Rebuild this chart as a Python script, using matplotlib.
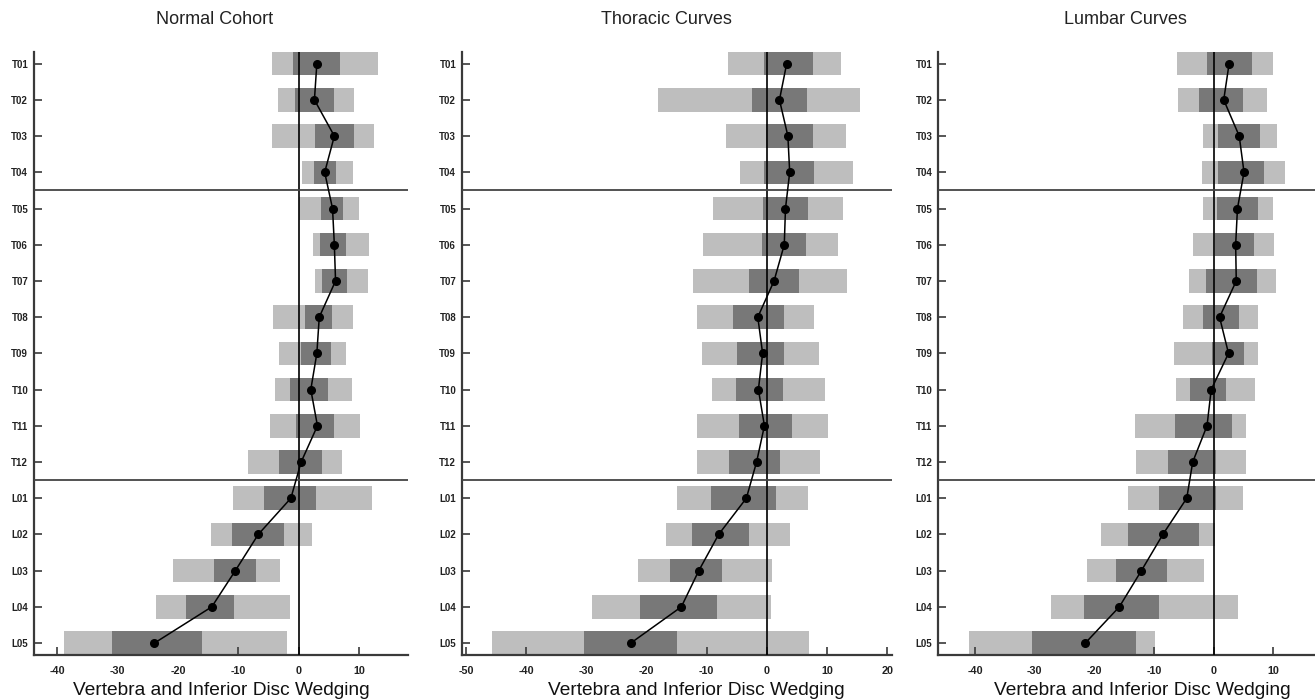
import matplotlib
matplotlib.use("Agg")
import matplotlib.pyplot as plt
import numpy as np

plt.rcParams['font.family'] = ['Liberation Sans', 'DejaVu Sans']

levels = ["T01", "T02", "T03", "T04", "T05", "T06", "T07", "T08", "T09", "T10",
          "T11", "T12", "L01", "L02", "L03", "L04", "L05"]

# Normal Cohort
normal_outer_lo = [-4.5, -3.5, -4.4, 0.6, 0.1, 2.3, 2.7, -4.3, -3.2, -3.9, -4.8, -8.4, -10.9, -14.5, -20.8, -23.6, -38.9]
normal_inner_lo = [-0.9, -0.6, 2.7, 2.6, 3.7, 3.5, 3.8, 1.0, 0.4, -1.4, -0.5, -3.2, -5.8, -11.0, -14.0, -18.7, -30.9]
normal_median   = [3.0, 2.6, 5.9, 4.3, 5.6, 5.9, 6.1, 3.4, 3.0, 2.0, 3.1, 0.4, -1.3, -6.7, -10.5, -14.4, -23.9]
normal_inner_hi = [6.8, 5.9, 9.2, 6.1, 7.4, 7.8, 8.0, 5.5, 5.3, 4.8, 5.9, 3.9, 2.8, -2.5, -7.0, -10.8, -16.0]
normal_outer_hi = [13.1, 9.2, 12.5, 9.0, 10.0, 11.6, 11.4, 9.0, 7.8, 8.8, 10.2, 7.2, 12.1, 2.2, -3.1, -1.4, -2.0]

# Thoracic Curves
thor_outer_lo = [-6.5, -18.0, -6.7, -4.4, -8.9, -10.6, -12.2, -11.6, -10.7, -9.1, -11.6, -11.6, -15.0, -16.7, -21.4, -29.1, -45.7]
thor_inner_lo = [-0.4, -2.5, -0.1, -0.5, -0.7, -0.8, -2.9, -5.7, -5.0, -5.1, -4.7, -6.3, -9.2, -12.4, -16.1, -21.0, -30.4]
thor_median   = [3.3, 2.1, 3.5, 3.8, 3.1, 2.9, 1.2, -1.5, -0.7, -1.4, -0.4, -1.7, -3.4, -8.0, -11.3, -14.2, -22.6]
thor_inner_hi = [7.7, 6.6, 7.6, 7.9, 6.8, 6.5, 5.4, 2.8, 2.8, 2.7, 4.2, 2.2, 1.6, -2.9, -7.4, -8.2, -15.0]
thor_outer_hi = [12.4, 15.5, 13.2, 14.4, 12.7, 11.8, 13.3, 7.9, 8.6, 9.6, 10.1, 8.9, 6.8, 3.9, 0.8, 0.7, 7.0]

# Lumbar Curves
lumb_outer_lo = [-6.1, -5.9, -1.7, -2.0, -1.8, -3.5, -4.2, -5.1, -6.7, -6.3, -13.2, -13.0, -14.3, -18.9, -21.3, -27.3, -41.0]
lumb_inner_lo = [-1.1, -2.5, 0.8, 0.7, 0.5, 0.2, -1.2, -1.7, -0.2, -4.0, -6.5, -7.7, -9.2, -14.3, -16.3, -21.8, -30.5]
lumb_median   = [2.6, 1.7, 4.3, 5.1, 4.0, 3.7, 3.8, 1.0, 2.5, -0.4, -1.1, -3.5, -4.5, -8.5, -12.1, -15.8, -21.5]
lumb_inner_hi = [6.4, 5.0, 7.7, 8.5, 7.4, 6.8, 7.3, 4.2, 5.1, 2.1, 3.1, 0.4, 0.4, -2.4, -7.8, -9.2, -13.0]
lumb_outer_hi = [10.0, 9.0, 10.7, 11.9, 10.0, 10.2, 10.5, 7.5, 7.4, 7.0, 5.5, 5.5, 4.9, 0.3, -1.6, 4.1, -9.8]

titles = ["Normal Cohort", "Thoracic Curves", "Lumbar Curves"]
xlabel = "Vertebra and Inferior Disc Wedging"
separators = [3.5, 11.5]

panels = [
    (normal_outer_lo, normal_inner_lo, normal_median, normal_inner_hi, normal_outer_hi),
    (thor_outer_lo, thor_inner_lo, thor_median, thor_inner_hi, thor_outer_hi),
    (lumb_outer_lo, lumb_inner_lo, lumb_median, lumb_inner_hi, lumb_outer_hi),
]
xlims = [(-43.9, 18.1), (-50.7, 20.8), (-46.2, 17.0)]
xticks = [[-40, -30, -20, -10, 0, 10], [-50, -40, -30, -20, -10, 0, 10, 20], [-40, -30, -20, -10, 0, 10]]

W, H = 1315, 700
axes_px = [(33.7, 408.0), (461.7, 892.0), (938.0, 1315.0)]
xlabel_cx = [221, 696, 1142]
title_cx = [215, 666, 1125]
top_px, bot_px = 51.7, 655.0

fig = plt.figure(figsize=(W / 100, H / 100), dpi=100)

light = "#bebebe"
dark = "#787878"
spine_col = "#3a3a3a"

for i, (data, title) in enumerate(zip(panels, titles)):
    l, r = axes_px[i]
    ax = fig.add_axes([l / W, 1 - bot_px / H, (r - l) / W, (bot_px - top_px) / H])
    olo, ilo, med, ihi, ohi = [np.array(a) for a in data]
    y = np.arange(len(levels))
    ax.barh(y, ohi - olo, left=olo, height=0.65, color=light, zorder=1)
    ax.barh(y, ihi - ilo, left=ilo, height=0.65, color=dark, zorder=2)
    ax.plot(med, y, color="black", lw=1.1, marker="o", markersize=5.5, zorder=5)
    ax.axvline(0, color="black", lw=1.2, zorder=4)
    for s in separators:
        ax.axhline(s, color="#444444", lw=1.3, zorder=4)
    ax.set_xlim(*xlims[i])
    ax.set_ylim(len(levels) - 1 + 0.33, -0.33)
    ax.set_yticks(y)
    ax.set_yticklabels(levels, fontsize=7, fontweight="bold", color="#222222")
    ax.set_xticks(xticks[i])
    ax.set_xticklabels([str(t) for t in xticks[i]], fontsize=7.8, fontweight="bold", color="#222222")
    ax.tick_params(axis="y", direction="in", length=6, width=1.2, color=spine_col, pad=4)
    ax.tick_params(axis="x", direction="in", length=6, width=1.2, color=spine_col, pad=8)
    for side in ["top", "right"]:
        ax.spines[side].set_visible(False)
    for side in ["left", "bottom"]:
        ax.spines[side].set_color(spine_col)
        ax.spines[side].set_linewidth(1.6)
    fig.text(title_cx[i] / W, 1 - 24.5 / H, title, ha="center", va="baseline", fontsize=13, color="#222222")
    fig.text(xlabel_cx[i] / W, 1 - 695 / H, xlabel, ha="center", va="baseline", fontsize=13.8, color="#111111")

fig.savefig("out.png", dpi=100)
